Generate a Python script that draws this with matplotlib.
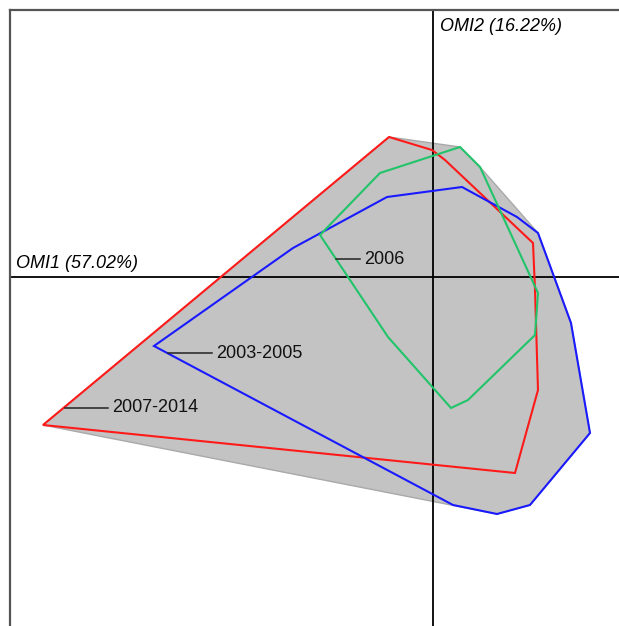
import numpy as np
import matplotlib.pyplot as plt

plt.rcParams['font.family'] = ['Liberation Sans', 'DejaVu Sans']

# OMI scores of the sub-niche outlines (OMI1, OMI2)
red_x = [-3.90, -0.44, -0.01, 0.12, 1.00, 1.02, 1.05, 0.82]
red_y = [-1.48, 1.40, 1.27, 1.17, 0.34, -0.13, -1.13, -1.96]

blue_x = [-2.79, -1.40, -0.46, 0.29, 0.84, 1.05, 1.38, 1.57, 0.97, 0.64, 0.20]
blue_y = [-0.69, 0.29, 0.80, 0.90, 0.60, 0.44, -0.46, -1.56, -2.28, -2.37, -2.28]

green_x = [-1.13, -0.53, 0.27, 0.47, 1.05, 1.02, 0.35, 0.18, -0.45]
green_y = [0.42, 1.04, 1.30, 1.10, -0.16, -0.58, -1.23, -1.31, -0.60]

periods = ['2007-2014', '2003-2005', '2006']
label_x = [-3.68, -2.65, -0.97]
label_y = [-1.31, -0.76, 0.18]
label_len = [0.43, 0.44, 0.24]


def hull(px, py):
    pts = sorted(set(zip(px, py)))

    def cross(o, a, b):
        return (a[0]-o[0])*(b[1]-o[1]) - (a[1]-o[1])*(b[0]-o[0])
    lower, upper = [], []
    for p in pts:
        while len(lower) >= 2 and cross(lower[-2], lower[-1], p) <= 0:
            lower.pop()
        lower.append(p)
    for p in reversed(pts):
        while len(upper) >= 2 and cross(upper[-2], upper[-1], p) <= 0:
            upper.pop()
        upper.append(p)
    h = lower[:-1] + upper[:-1]
    return [p[0] for p in h], [p[1] for p in h]


fig = plt.figure(figsize=(6.19, 6.26), dpi=100)
ax = fig.add_axes([10/619, 0, 1 - 10/619, 1 - 10/626])
ax.set_xlim(-4.23, 1.86)
ax.set_ylim(-3.49, 2.67)

hx, hy = hull(red_x + blue_x + green_x, red_y + blue_y + green_y)
ax.fill(hx, hy, facecolor='#c3c3c3', edgecolor='#a9a9a9', lw=1.0, zorder=1)

ax.axhline(0, color='black', lw=1.3, zorder=2)
ax.axvline(0, color='black', lw=1.3, zorder=2)

for xs, ys, c in [(red_x, red_y, '#ff1a1a'), (blue_x, blue_y, '#1a1aff'),
                  (green_x, green_y, '#22c46a')]:
    ax.fill(xs, ys, facecolor='none', edgecolor=c, lw=1.5, zorder=3)

for name, lx, ly, ll in zip(periods, label_x, label_y, label_len):
    ax.plot([lx, lx + ll], [ly, ly], color='#222222', lw=1.1, zorder=4)
    ax.text(lx + ll + 0.04, ly, name, fontsize=13, va='center', ha='left',
            color='#111111', zorder=5)

ax.text(-4.17, 0.05, 'OMI1 (57.02%)', fontsize=13, style='italic', va='bottom')
ax.text(0.07, 2.59, 'OMI2 (16.22%)', fontsize=13, style='italic', va='top')

ax.set_xticks([])
ax.set_yticks([])
for s in ['right', 'bottom']:
    ax.spines[s].set_visible(False)
for s in ['left', 'top']:
    ax.spines[s].set_color('#555555')
    ax.spines[s].set_linewidth(1.6)

fig.savefig('out.png', dpi=100)
